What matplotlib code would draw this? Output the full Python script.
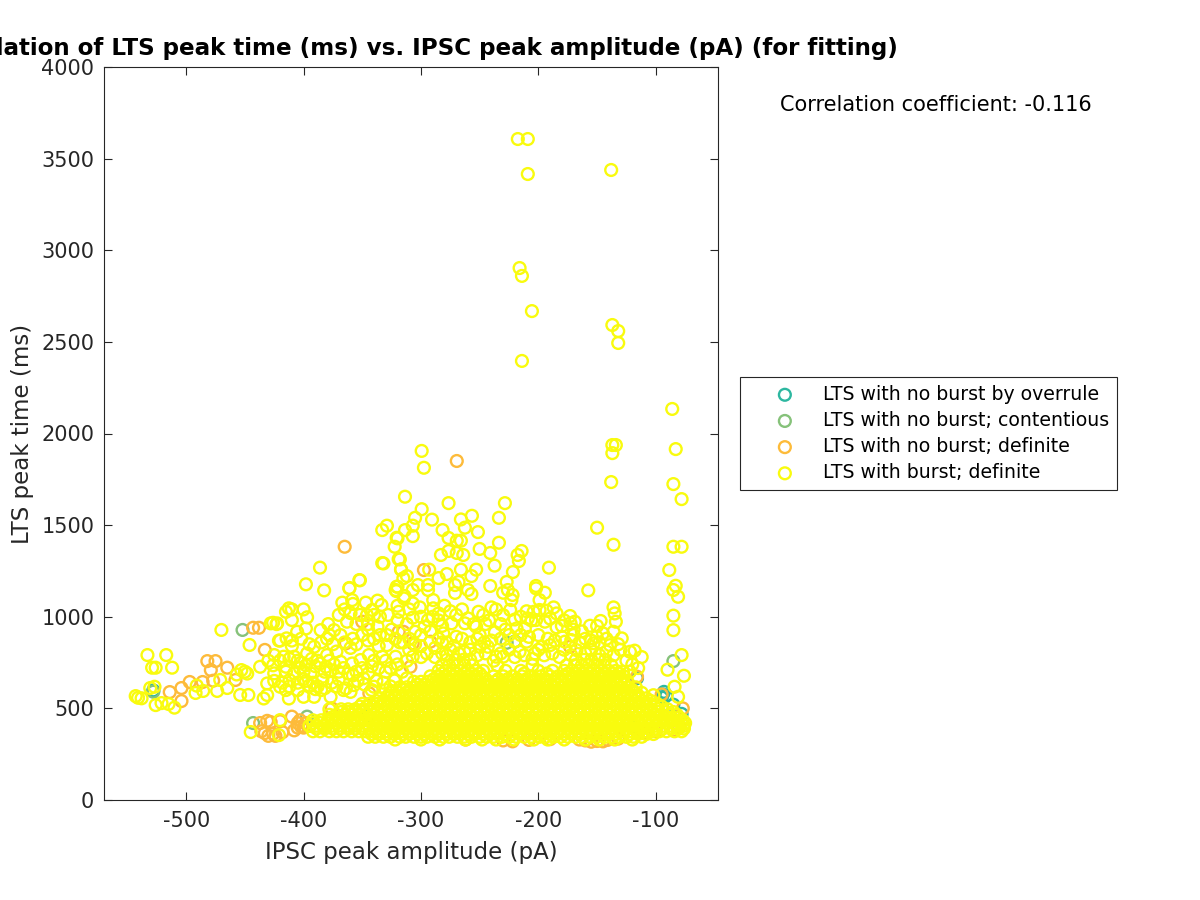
import numpy as np
import matplotlib
matplotlib.use('Agg')
import matplotlib.pyplot as plt

plt.rcParams['axes.unicode_minus'] = False

title = 'Correlation of LTS peak time (ms) vs. IPSC peak amplitude (pA) (for fitting)'
labels = ['LTS with no burst by overrule', 'LTS with no burst; contentious',
          'LTS with no burst; definite', 'LTS with burst; definite']
colors = ['#2DB7A0', '#86C27A', '#FDBB3A', '#F9FB0E']

overrule = [(-528,598),(-94,576),(-95,560),(-93,590),(-91,570),(-116,665),(-345,460),(-220,865),
            (-118,400),(-85,520),(-78,470)]
contentious = [(-528,591),(-452,928),(-443,420),(-397,455),(-227,858),(-85,758),(-345,450)]
nonburst = [(-514,589),(-504,611),(-504,540),(-497,644),(-486,644),(-482,758),(-475,758),(-479,709),
            (-477,651),(-465,722),(-458,655),(-443,940),(-438,940),(-433,819),(-365,1382),(-269.5,1850),
            (-297.5,1255),(-437,420),(-433,365),(-430,350),(-424,350),(-420,430),(-428,425),
            (-436,375),(-426,362),(-418,370),(-431,432),
            (-410,455),(-405,420),(-402,400),(-408,380),(-400,395),(-403,435),(-398,420),(-405,395),(-395,405),
            (-376,500),(-344,582),(-364,855),
            (-350,973),(-319,918),(-315,918),(-307,855),(-292,864),(-309,727),(-173,836),(-116,673),
            (-95,576),(-77,500),(-80,400),(-85,380),(-150,322),(-155,318),(-160,325),(-145,320),(-165,330),(-141,328),
            (-230,325),(-222,320),(-208,328),(-132,335),(-110,365),(-100,375),(-262,330),(-190,332)]

# scattered points above the dense band
burst_upper = [(-217.5,3607),(-209,3607),(-209,3416),(-138,3438),(-216,2903),(-214,2860),(-205.5,2668),
               (-214,2396),(-137,2592),(-132,2559),(-132,2494),(-86,2134),(-83,1915),(-85,1724),(-78,1642),
               (-137,1937),(-134,1937),(-137,1893),(-138,1735),(-150,1486),(-136,1393),(-85,1382),(-78,1382),
               (-88.5,1255),(-83,1169),(-85,1146),(-81,1109),(-85,1006),(-85,927),(-78,791),(-90,711),(-76,678),
               (-299.4,1905),(-297.5,1813),(-313.6,1655),(-276.5,1620),(-228.5,1620),(-299.4,1587),(-305,1540),
               (-290.6,1530),(-266,1531),(-256.6,1551),(-233.6,1540),(-329,1497),(-333,1473),(-313.6,1473),
               (-307,1497),(-307,1440),(-281.6,1473),(-262.6,1486),(-251.5,1462),(-320.7,1431),(-322.4,1382),
               (-276.5,1430),(-269.5,1415),(-266,1415),(-233.6,1404),(-276.5,1359),(-269.5,1348),(-264,1337),
               (-283,1337),(-250,1370),(-241,1348),(-214.3,1359),(-217.7,1337),(-216.6,1304),(-319,1315),
               (-333,1293),(-237.3,1279),(-221.7,1244),(-191,1268),(-293,1257),(-317,1257),(-266,1257),(-253,1257),
               (-278,1233),(-285,1211),(-312,1222),(-257,1222),(-268,1190),(-352.5,1200),(-361,1157),(-241,1168),
               (-227,1190),(-202,1168),(-202,1155),(-320.7,1164),(-321,1140),(-302.6,1173),(-294,1173),(-271,1173),
               (-194.5,1131),(-230,1131),(-226,1146),(-222,1119),(-260,1146),(-257,1124),(-271,1130),(-223,1091),
               (-157.5,1144),(-136,1051),(-135,1018),(-134,973),(-147,977),(-156,951),(-199,1091),(-187,1051),
               (-184.5,1018),(-173,1004),(-169,973),(-172.6,964),(-184.5,942),(-240,1051),(-236,1040),(-230,1009),
               (-224,1037),(-204,1027),(-199,1037),(-193,1033),(-209,991),(-202,982),(-194.5,973),(-218.6,936),
               (-211.5,936),(-251,1027),(-247,1009),(-260,991),(-262.6,964),(-253,946),(-250,900),(-237,915),
               (-274,964),(-281,909),(-270,891),(-289.6,1091),(-285,1018),(-289.6,1046),(-307,1146),(-294,1146),
               (-314,1113),(-301,1051),(-307,1073),(-307,995),(-294,982),(-297,946),(-305,918),(-150.4,891),
               (-145,909),(-153,855),(-136,918),(-129,882),(-139,845),(-122,809),(-118,815),(-177.4,864),(-172,873),
               (-167.5,818),(-190,845),(-197,836),(-203,800),(-220,864),(-210,864),(-216,809),(-230,782),(-236,782),
               (-243,836),(-250,836),(-263,809),(-307,782),(-312,664),(-102,572),(-84,618),(-81,563)]

# left side cluster
burst_left = [(-533,791),(-517,791),(-529,722),(-526,722),(-512,722),(-543,567),(-541,558),(-538,555),(-530.6,611),
              (-527,618),(-526,518),(-521,529),(-515,524),(-510,504),(-492,584),(-491,624),(-485.5,595),(-473.6,595),
              (-471,655),(-465,611),(-454,573),(-447,573),(-453,709),(-450,700),(-457,685),(-448,690),(-470,928),
              (-446,846),(-426,967),(-423,960),(-445,371),(-420,436),(-421,354),(-398,1177),(-386,1268),(-382.5,1144),
              (-361,1155),(-352,1199),
              (-332,1291),(-320,1428),(-318,1313),(-317,1259),(-367,1077),(-358.6,1091),(-358,1070),(-347,1077),(-337,1088),
              (-333.6,1064),(-341.5,1037),(-346,1009),(-363,973),(-321.6,1146),(-320,1164),(-315,1210),(-314.6,1100),
              (-412.5,1046),(-410,1040),(-400,1040),(-397,997),(-415,1027),(-410,982),(-398,936),(-405.5,918),(-414.5,882),
              (-428,964),(-422.5,964),(-385.5,927),(-379,960),(-374,927),(-378,900),(-368.5,900),(-380,880),(-337,946),
              (-329,900),(-329,845),(-320,982),(-319,1027),(-350,900),(-358,880),(-345,870),(-368.5,754),(-358.6,745),
              (-351.5,764),(-344.4,791),(-333,782),(-330,700),(-321.6,782),(-323,654),(-380,791),(-381,727),(-377,709),
              (-425,791),(-417,782),(-408,782),(-397,800),(-391,836),(-402,750),(-388,760),(-437,727),(-425,691),(-415,727),
              (-408,691),(-394,691),(-384,654),(-431,636),(-420,618),(-412,654),(-434,554),(-431,573),(-412.5,554),(-400,563),
              (-391,563),(-377,563),(-378,495),(-364,609),(-357,627),(-349,664),(-340,618),(-330,600),(-322,654),
              (-405,640),(-395,625),(-415,600),(-390,605),(-400,660),(-385,600),(-370,660),(-358,680),(-342,730),(-310,820),
              (-300,840),(-288,830),(-278,790),(-282,860),(-318,860),(-336,840),(-372,810),(-360,830),(-410,840),(-421,870)]

# more of the busy area between the band and about 1050 ms
burst_mid = [(-430,760),(-426,735),(-420,760),(-415,700),(-412,770),(-405,760),(-403,720),(-400,700),(-398,735),(-393,770),
             (-390,730),(-386,745),(-382,700),(-378,760),(-374,740),(-370,700),(-366,720),(-362,690),(-355,700),(-350,720),
             (-345,690),(-340,760),(-336,720),(-330,760),(-326,720),(-320,740),(-316,700),(-312,760),(-425,650),(-418,640),
             (-412,620),(-405,600),(-398,650),(-392,640),(-388,620),(-382,610),(-376,640),(-372,620),(-366,600),(-360,590),
             (-354,650),(-348,630),(-342,600),(-338,650),(-332,640),(-326,620),(-420,870),(-410,870),(-402,880),(-395,850),
             (-385,860),(-375,850),(-365,860),(-355,850),(-345,930),(-340,880),(-335,900),(-325,930),(-322,880),(-315,860),
             (-310,880),(-305,850),(-300,900),(-292,920),(-285,880),(-278,860),(-272,840),(-265,880),(-258,860),(-252,880),
             (-246,860),(-240,870),(-232,880),(-225,900),(-215,900),(-208,890),(-200,900),(-192,880),(-186,870),(-180,890),
             (-170,900),(-165,860),(-160,880),(-155,870),(-148,860),(-142,880),(-132,850),(-300,780),(-295,800),(-288,780),
             (-282,800),(-275,820),(-268,800),(-258,820),(-252,790),(-245,800),(-238,760),(-232,800),(-225,820),(-220,780),
             (-212,790),(-205,770),(-200,820),(-195,790),(-188,800),(-182,780),(-178,820),(-172,790),(-160,800),(-155,820),
             (-148,790),(-142,810),(-136,790),(-130,820),(-125,760),(-120,740),(-115,720),(-112,780),(-128,700),(-122,700),
             (-300,1000),(-310,1040),(-312,960),(-320,1060),(-328,1010),(-335,1000),(-340,1010),(-352,1010),(-360,1020),
             (-365,1040),(-355,960),(-345,960),(-370,1010),(-280,1060),(-275,1030),(-270,1010),(-265,1040),(-285,980),
             (-282,950),(-290,1000),(-255,960),(-245,960),(-242,980),(-232,960),(-228,930),(-220,985),(-215,1000),(-210,1030),
             (-206,980),(-190,990),(-180,950),(-178,980),(-170,930),(-163,920),(-150,950)]

# dense band, one list per level of LTS peak time
band_330 = [-322,-300,-284,-262,-248,-236,-221,-204,-192,-178,-160,-148,-135,-120]
band_345 = [-345,-339,-332,-326,-318,-313,-306,-300,-295,-288,-281,-276,-269,-263,-257,-250,-244,-238,-231,-225,-219,
            -212,-206,-199,-194,-187,-181,-175,-168,-163,-156,-150,-143,-137,-131,-125,-119,-112]
band_360 = [-342,-336,-329,-323,-316,-310,-303,-297,-291,-285,-278,-272,-266,-260,-254,-247,-241,-235,-228,-222,-216,
            -209,-203,-196,-190,-184,-178,-172,-165,-159,-153,-147,-140,-134,-128,-122,-115,-108,-102]
band_375 = [-392,-386,-378,-372,-366,-359,-353,-347,-341,-335,-329,-322,-316,-310,-303,-298,-291,-285,-279,-272,-266,
            -260,-254,-247,-241,-235,-228,-222,-216,-209,-203,-197,-191,-184,-178,-172,-165,-159,-153,-147,-140,-134,
            -128,-122,-116,-109,-103,-97,-91,-84,-78]
band_390 = [-389,-382,-375,-369,-362,-356,-350,-344,-338,-332,-325,-319,-313,-306,-300,-294,-288,-282,-275,-269,-263,
            -257,-250,-244,-238,-231,-225,-219,-212,-206,-200,-194,-187,-181,-175,-168,-162,-156,-150,-143,-137,-131,
            -125,-119,-112,-106,-100,-94,-87,-81,-76]
band_405 = [-395,-389,-383,-376,-370,-363,-357,-350,-344,-338,-332,-326,-319,-313,-307,-300,-294,-288,-282,-275,-269,
            -263,-257,-250,-244,-238,-232,-225,-219,-213,-206,-200,-194,-188,-181,-175,-169,-162,-156,-150,-144,-137,
            -131,-125,-119,-112,-106,-100,-94,-87,-81,-76]
band_420 = [-392,-386,-380,-373,-366,-360,-354,-347,-341,-335,-329,-323,-316,-310,-304,-297,-291,-285,-279,-272,-266,
            -260,-254,-247,-241,-235,-229,-222,-216,-210,-203,-197,-191,-185,-178,-172,-166,-159,-153,-147,-141,-134,
            -128,-122,-116,-109,-103,-97,-91,-84,-78,-75]
band_435 = [-392,-385,-379,-373,-367,-360,-354,-348,-342,-335,-329,-323,-316,-310,-304,-297,-291,-285,-279,-272,-266,
            -260,-253,-247,-241,-235,-228,-222,-216,-209,-203,-197,-191,-184,-178,-172,-165,-159,-153,-147,-140,-134,
            -128,-122,-115,-109,-103,-97,-90,-84,-77]
band_450 = [-376,-370,-364,-357,-351,-345,-339,-332,-326,-320,-313,-307,-301,-294,-288,-282,-276,-269,-263,-257,-250,
            -244,-238,-232,-225,-219,-213,-206,-200,-194,-188,-181,-175,-169,-162,-156,-150,-144,-137,-131,-125,-118,
            -112,-106,-100,-93,-87,-80]
band_465 = [-378,-372,-365,-359,-353,-346,-340,-334,-328,-321,-315,-309,-302,-296,-290,-284,-277,-271,-265,-258,-252,
            -246,-240,-233,-227,-221,-214,-208,-202,-196,-189,-183,-177,-170,-164,-158,-152,-145,-139,-133,-126,-120,
            -114,-108,-101,-95,-88,-82]
band_480 = [-368,-362,-356,-350,-343,-337,-331,-324,-318,-312,-306,-299,-293,-287,-280,-274,-268,-262,-255,-249,-243,
            -236,-230,-224,-218,-211,-205,-199,-192,-186,-180,-174,-167,-161,-155,-148,-142,-136,-130,-123,-117,-111,
            -105,-98,-91,-85]
band_495 = [-368,-362,-356,-349,-343,-337,-331,-324,-318,-312,-305,-299,-293,-287,-280,-274,-268,-261,-255,-249,-243,
            -236,-230,-224,-217,-211,-205,-199,-192,-186,-180,-173,-167,-161,-155,-148,-142,-136,-129,-123,-117,-111,
            -104,-98,-90]
band_510 = [-352,-346,-340,-334,-328,-321,-315,-309,-302,-296,-290,-284,-277,-271,-265,-258,-252,-246,-240,-233,-227,
            -221,-214,-208,-202,-196,-189,-183,-177,-170,-164,-158,-152,-145,-139,-133,-126,-120,-114,-108,-101,-95]
band_525 = [-350,-344,-337,-331,-325,-318,-312,-306,-300,-293,-287,-281,-274,-268,-262,-256,-249,-243,-237,-230,-224,
            -218,-212,-205,-199,-193,-186,-180,-174,-168,-161,-155,-149,-142,-136,-130,-124,-117,-111,-105,-99]
band_540 = [-338,-332,-325,-319,-312,-306,-300,-294,-288,-281,-275,-269,-262,-256,-250,-244,-237,-231,-225,-218,-212,
            -206,-200,-193,-187,-181,-174,-168,-162,-156,-149,-143,-137,-130,-124,-118,-111,-104]
band_555 = [-335,-328,-322,-316,-309,-303,-297,-291,-284,-278,-272,-265,-259,-253,-247,-240,-234,-228,-221,-215,-209,
            -203,-196,-190,-184,-177,-171,-165,-159,-152,-146,-140,-133,-127,-121,-115,-108]
band_570 = [-328,-322,-316,-310,-303,-297,-291,-284,-278,-272,-266,-259,-253,-247,-240,-234,-228,-222,-215,-209,-203,
            -196,-190,-184,-178,-171,-165,-159,-152,-146,-140,-134,-127,-121,-115]
band_585 = [-325,-319,-313,-306,-300,-294,-288,-281,-275,-269,-262,-256,-250,-244,-237,-231,-225,-218,-212,-206,-200,
            -193,-187,-181,-174,-168,-162,-156,-149,-143,-137,-130,-124,-118,-112]
band_600 = [-315,-309,-302,-296,-290,-284,-277,-271,-265,-258,-252,-246,-240,-233,-227,-221,-214,-208,-202,-196,-189,
            -183,-177,-170,-164,-158,-152,-145,-139,-133,-126,-120]
band_615 = [-318,-312,-305,-299,-293,-287,-280,-274,-268,-261,-255,-249,-243,-236,-230,-224,-217,-211,-205,-199,-192,
            -186,-180,-173,-167,-161,-155,-148,-142,-136,-129,-123,-117]
band_630 = [-303,-297,-290,-284,-278,-272,-265,-259,-253,-246,-240,-234,-228,-221,-215,-209,-202,-196,-190,-184,-177,
            -171,-165,-158,-152,-146,-140,-133,-127]
band_645 = [-306,-300,-294,-287,-281,-275,-268,-262,-256,-250,-243,-237,-231,-224,-218,-212,-206,-199,-193,-187,-180,
            -174,-168,-162,-155,-149,-143,-136,-130,-124]
band_660 = [-289,-283,-277,-270,-264,-258,-252,-245,-234,-226,-218,-210,-202,-194,-186,-180,-172,-166,-160,-154,-147,
            -141,-135,-129]
band_675 = [-292,-286,-279,-273,-267,-261,-254,-248,-238,-230,-222,-214,-206,-198,-190,-183,-177,-170,-164,-158,-152,
            -145,-139,-133,-127]
band_690 = [-282,-276,-270,-263,-257,-250,-212,-193,-175,-168,-162,-156,-149,-143,-137,-131]
band_705 = [-285,-279,-272,-266,-260,-253,-247,-228,-215,-200,-188,-178,-171,-165,-159,-153,-146,-140,-134]
band_735 = [-282,-276,-269,-263,-256,-235,-205,-176,-169,-163,-157,-150,-144,-138]
band_765 = [-278,-271,-264,-258,-168,-161,-155,-149,-143]

burst_pts = burst_upper + burst_left + burst_mid
burst_x = [p[0] for p in burst_pts]
burst_y = [p[1] for p in burst_pts]
for level, row in [(330,band_330),(345,band_345),(360,band_360),(375,band_375),(390,band_390),(405,band_405),(420,band_420),
                   (435,band_435),(450,band_450),(465,band_465),(480,band_480),(495,band_495),(510,band_510),
                   (525,band_525),(540,band_540),(555,band_555),(570,band_570),(585,band_585),(600,band_600),
                   (615,band_615),(630,band_630),(645,band_645),(660,band_660),(675,band_675),(690,band_690),
                   (705,band_705),(735,band_735),(765,band_765)]:
    burst_x += row
    burst_y += [level] * len(row)

groups = [overrule, contentious, nonburst, list(zip(burst_x, burst_y))]

ink = '#262626'
fig = plt.figure(figsize=(12, 9), dpi=100)
ax = fig.add_axes([104/1200, 1-800/900, 614/1200, 733/900])

for pts, c, lab in zip(groups, colors, labels):
    arr = np.array(pts)
    ax.scatter(arr[:, 0], arr[:, 1], s=72, facecolors='none', edgecolors=c, linewidths=1.7, label=lab)

ax.set_xlim(-570, -47)
ax.set_ylim(0, 4000)
ax.set_xticks([-500, -400, -300, -200, -100])
ax.set_yticks(np.arange(0, 4001, 500))
ax.tick_params(direction='in', top=True, right=True, length=6, width=0.8, color=ink, labelcolor=ink, labelsize=15)
ax.tick_params(axis='x', pad=8)
ax.tick_params(axis='y', pad=7)
for s in ax.spines.values():
    s.set_color(ink)
    s.set_linewidth(0.8)
ax.set_xlabel('IPSC peak amplitude (pA)', fontsize=16.5, color=ink, labelpad=7)
ax.set_ylabel('LTS peak time (ms)', fontsize=16.5, color=ink, labelpad=5)
ax.set_title(title, fontsize=16.6, fontweight='bold', color='black', pad=9)

fig.text(780/1200, 1-105/900, 'Correlation coefficient: -0.116', fontsize=15, color='black', va='center', ha='left')

leg = ax.legend(loc='center left', bbox_to_anchor=(740/1200, 1-433.5/900), bbox_transform=fig.transFigure,
                fontsize=13.6, frameon=True, fancybox=False, framealpha=1, edgecolor=ink,
                borderaxespad=0, borderpad=0.4, labelspacing=0.38, handletextpad=0.05, handlelength=3.95, scatterpoints=1)
leg.get_frame().set_linewidth(0.8)

fig.savefig('out.png', dpi=100)
